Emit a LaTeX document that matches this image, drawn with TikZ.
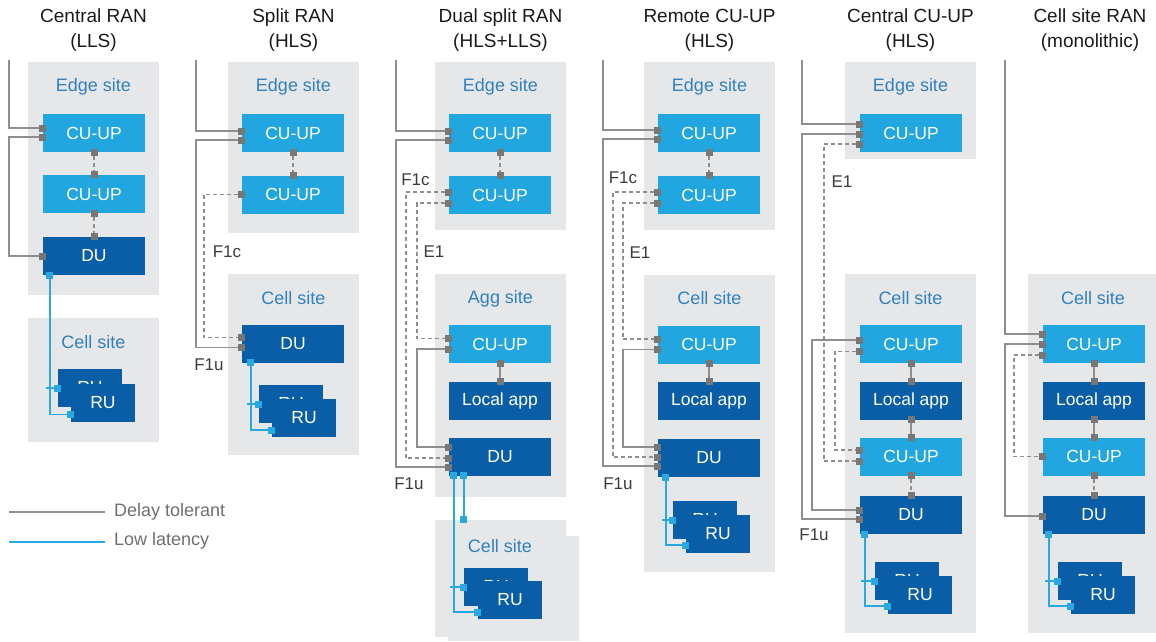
\documentclass[tikz,border=0pt]{standalone}
\usepackage{fontspec}
\setmainfont{Liberation Sans}
\usetikzlibrary{arrows.meta}
\definecolor{sitebg}{HTML}{E6E7E8}
\definecolor{cublue}{HTML}{22A6DF}
\definecolor{dublue}{HTML}{0A5EA7}
\definecolor{sitetxt}{HTML}{3180C0}
\definecolor{lgray}{HTML}{8E8E8E}
\definecolor{sqgray}{HTML}{777777}
\definecolor{lblue}{HTML}{2AA8E0}
\definecolor{legtxt}{HTML}{6D6E71}
\definecolor{ttl}{HTML}{1A1A1A}
\begin{document}
\begin{tikzpicture}[x=1pt,y=-1pt,
  site/.style={rectangle, fill=sitebg, draw=none, inner sep=0pt},
  sitelbl/.style={text=sitetxt, inner sep=0pt, font=\fontsize{18}{20}\selectfont},
  box/.style={rectangle, inner sep=0pt, minimum width=102pt, minimum height=38pt, text=white, font=\fontsize{17.5}{20}\selectfont},
  cu/.style={box, fill=cublue},
  du/.style={box, fill=dublue},
  ru/.style={box, fill=dublue, minimum width=64pt},
  title/.style={align=center, text=ttl, inner sep=0pt, font=\fontsize{19}{25}\selectfont},
  iflbl/.style={text=ttl!85, inner sep=0pt, font=\fontsize{17}{20}\selectfont},
  gl/.style={draw=lgray, line width=1.4pt, shorten >=-3.5pt, shorten <=-3.5pt,
    >={Square[length=7pt,width=7pt,line width=0pt,color=sqgray]}},
  dl/.style={gl, dash pattern=on 4pt off 3pt},
  bl/.style={draw=lblue, line width=1.4pt, shorten >=-3.5pt, shorten <=-3.5pt,
    >={Square[length=7pt,width=7pt,line width=0pt]}},
  legline/.style={line width=2pt},
  legtext/.style={text=legtxt, anchor=west, inner sep=0pt, font=\fontsize{18}{20}\selectfont}
]
\useasboundingbox (0,0) rectangle (1156,641);

% ---------------- Central RAN (LLS) ----------------
\node[title] (c1t) at (93.5,30.5) {Central RAN\\(LLS)};
\node[site, minimum width=131pt, minimum height=233pt] (c1edge) at (93.5,178.5) {};
\node[site, minimum width=131pt, minimum height=124pt] (c1cell) at (93.5,380) {};
\node[sitelbl] (c1edgeL) at (93.5,87) {Edge site};
\node[sitelbl] (c1cellL) at (93.5,342) {Cell site};
\node[cu] (c1cu1) at (94,133) {CU-UP};
\node[cu] (c1cu2) at (94,194) {CU-UP};
\node[du] (c1du) at (94,256) {DU};
\node[ru] (c1rub) at (90,388) {RU};
\node[ru] (c1ruf) at (103,402.5) {RU};
\coordinate (c1top) at (9,63);
\draw[gl,->] (c1top) |- ([yshift=5pt]c1cu1.west);
\draw[gl,<->] ([yshift=-4pt]c1cu1.west) -- ++(-34,0) |- (c1du.west);
\draw[dl,<->] (c1cu1.south) -- (c1cu2.north);
\draw[dl,<->] (c1cu2.south) -- (c1du.north);
\draw[bl,<->] ([xshift=7pt]c1du.south west) |- ([yshift=-12pt]c1ruf.west);
\draw[bl,->] ([xshift=7pt]c1du.south west |- c1rub.west) -- (c1rub.west);

% ---------------- Split RAN (HLS) ----------------
\node[title] (c2t) at (293.5,30.5) {Split RAN\\(HLS)};
\node[site, minimum width=131pt, minimum height=171pt] (c2edge) at (293.5,147.5) {};
\node[site, minimum width=131pt, minimum height=181pt] (c2cell) at (293.5,364.5) {};
\node[sitelbl] (c2edgeL) at (293.5,87) {Edge site};
\node[sitelbl] (c2cellL) at (293.5,298) {Cell site};
\node[cu] (c2cu1) at (293,133) {CU-UP};
\node[cu] (c2cu2) at (293,194.5) {CU-UP};
\node[du] (c2du) at (293,343.5) {DU};
\node[ru] (c2rub) at (291,404) {RU};
\node[ru] (c2ruf) at (304,418) {RU};
\coordinate (c2top) at (196,63);
\draw[gl,->] (c2top) |- ([yshift=2pt]c2cu1.west);
\draw[gl,<->] ([yshift=-7pt]c2cu1.west) -- ++(-46,0) |- ([yshift=-4pt]c2du.west);
\draw[dl,<->] (c2cu2.west) -- ++(-38,0) |- ([yshift=6pt]c2du.west);
\draw[dl,<->] (c2cu1.south) -- (c2cu2.north);
\draw[bl,<->] ([xshift=9pt]c2du.south west) |- ([yshift=-12pt]c2ruf.west);
\draw[bl,->] ([xshift=9pt]c2du.south west |- c2rub.west) -- (c2rub.west);
\node[iflbl] (c2f1c) at (227,252) {F1c};
\node[iflbl] (c2f1u) at (209,365) {F1u};

% ---------------- Dual split RAN (HLS+LLS) ----------------
\node[title] (c3t) at (500.5,30.5) {Dual split RAN\\(HLS+LLS)};
\node[site, minimum width=131pt, minimum height=168pt] (c3edge) at (500.5,146) {};
\node[site, minimum width=131pt, minimum height=223pt] (c3agg) at (500.5,385.5) {};
\node[site, minimum width=131pt, minimum height=117pt] (c3cellA) at (500.5,578.5) {};
\node[site, minimum width=131pt, minimum height=105pt] (c3cellB) at (513.5,588.5) {};
\node[sitelbl] (c3edgeL) at (500.5,87) {Edge site};
\node[sitelbl] (c3aggL) at (500.5,299) {Agg site};
\node[sitelbl] (c3cellL) at (500,546) {Cell site};
\node[cu] (c3cu1) at (500,133) {CU-UP};
\node[cu] (c3cu2) at (500,195) {CU-UP};
\node[cu] (c3acu) at (500,344) {CU-UP};
\node[du] (c3app) at (500,400.5) {Local app};
\node[du] (c3du) at (500,456.5) {DU};
\node[ru] (c3rub) at (496,587) {RU};
\node[ru] (c3ruf) at (510,600) {RU};
\coordinate (c3top) at (396,63);
\draw[gl,->] (c3top) |- ([yshift=2pt]c3cu1.west);
\draw[gl,<->] ([yshift=-7pt]c3cu1.west) -- ++(-53,0) |- ([yshift=-10.5pt]c3du.west);
\draw[dl,<->] ([yshift=3pt]c3cu2.west) -- ++(-43,0) |- ([yshift=-1.5pt]c3du.west);
\draw[dl,<->] ([yshift=-8pt]c3cu2.west) -- ++(-32,0) |- ([yshift=5.5pt]c3acu.west);
\draw[gl,<->] ([yshift=-5pt]c3acu.west) -- ++(-32,0) |- ([yshift=9.5pt]c3du.west);
\draw[dl,<->] (c3cu1.south) -- (c3cu2.north);
\draw[gl,<->] (c3acu.south) -- (c3app.north);
\draw[bl,<->] ([xshift=5pt]c3du.south west) |- ([yshift=-12pt]c3ruf.west);
\draw[bl,->] ([xshift=5pt]c3du.south west |- c3rub.west) -- (c3rub.west);
\draw[bl,<->] ([xshift=15pt]c3du.south west) -- ([xshift=15pt]c3du.south west |- c3cellA.north);
\node[iflbl] (c3f1c) at (415.5,180) {F1c};
\node[iflbl] (c3e1) at (434,252) {E1};
\node[iflbl] (c3f1u) at (409,484) {F1u};

% ---------------- Remote CU-UP (HLS) ----------------
\node[title] (c4t) at (709.5,30.5) {Remote CU-UP\\(HLS)};
\node[site, minimum width=131pt, minimum height=168pt] (c4edge) at (709.5,146) {};
\node[site, minimum width=131pt, minimum height=297pt] (c4cell) at (709.5,423.5) {};
\node[sitelbl] (c4edgeL) at (709.5,87) {Edge site};
\node[sitelbl] (c4cellL) at (709.5,298) {Cell site};
\node[cu] (c4cu1) at (709,133) {CU-UP};
\node[cu] (c4cu2) at (709,195) {CU-UP};
\node[cu] (c4cu) at (709,344.5) {CU-UP};
\node[du] (c4app) at (709,401) {Local app};
\node[du] (c4du) at (709,458) {DU};
\node[ru] (c4rub) at (705,520) {RU};
\node[ru] (c4ruf) at (718,534) {RU};
\coordinate (c4top) at (603,63);
\draw[gl,->] (c4top) |- ([yshift=3pt]c4cu1.west);
\draw[gl,<->] ([yshift=-6pt]c4cu1.west) -- ++(-55,0) |- ([yshift=-8pt]c4du.west);
\draw[dl,<->] ([yshift=3pt]c4cu2.west) -- ++(-45,0) |- ([yshift=1pt]c4du.west);
\draw[dl,<->] ([yshift=-8pt]c4cu2.west) -- ++(-35,0) |- ([yshift=5.5pt]c4cu.west);
\draw[gl,<->] ([yshift=-5pt]c4cu.west) -- ++(-35,0) |- ([yshift=11pt]c4du.west);
\draw[dl,<->] (c4cu1.south) -- (c4cu2.north);
\draw[gl,<->] (c4cu.south) -- (c4app.north);
\draw[bl,<->] ([xshift=8pt]c4du.south west) |- ([yshift=-11pt]c4ruf.west);
\draw[bl,->] ([xshift=8pt]c4du.south west |- c4rub.west) -- (c4rub.west);
\node[iflbl] (c4f1c) at (623,178) {F1c};
\node[iflbl] (c4e1) at (640,253) {E1};
\node[iflbl] (c4f1u) at (618,484) {F1u};

% ---------------- Central CU-UP (HLS) ----------------
\node[title] (c5t) at (910.5,30.5) {Central CU-UP\\(HLS)};
\node[site, minimum width=131pt, minimum height=97pt] (c5edge) at (910.5,110.5) {};
\node[site, minimum width=131pt, minimum height=359pt] (c5cell) at (910.5,453.5) {};
\node[sitelbl] (c5edgeL) at (910.5,87) {Edge site};
\node[sitelbl] (c5cellL) at (910.5,298) {Cell site};
\node[cu] (c5cu1) at (911,133) {CU-UP};
\node[cu] (c5ccu) at (911,344) {CU-UP};
\node[du] (c5app) at (911,400.5) {Local app};
\node[cu] (c5cu2) at (911,456.5) {CU-UP};
\node[du] (c5du) at (911,515) {DU};
\node[ru] (c5rub) at (907,581) {RU};
\node[ru] (c5ruf) at (920,595) {RU};
\coordinate (c5top) at (802,63);
\draw[gl,->] (c5top) |- ([yshift=9pt]c5cu1.west);
\draw[gl,<->] ([yshift=-1pt]c5cu1.west) -- ++(-58,0) |- ([yshift=-4pt]c5du.west);
\draw[dl,<->] ([yshift=-11pt]c5cu1.west) -- ++(-36,0) |- ([yshift=-4.5pt]c5cu2.west);
\draw[gl,<->] ([yshift=4pt]c5ccu.west) -- ++(-48,0) |- ([yshift=5pt]c5du.west);
\draw[dl,<->] ([yshift=-7.5pt]c5ccu.west) -- ++(-25,0) |- ([yshift=6.5pt]c5cu2.west);
\draw[gl,<->] (c5ccu.south) -- (c5app.north);
\draw[gl,<->] (c5app.south) -- (c5cu2.north);
\draw[dl,<->] (c5cu2.south) -- (c5du.north);
\draw[bl,<->] ([xshift=5pt]c5du.south west) |- ([yshift=-11pt]c5ruf.west);
\draw[bl,->] ([xshift=5pt]c5du.south west |- c5rub.west) -- (c5rub.west);
\node[iflbl] (c5e1) at (842,182) {E1};
\node[iflbl] (c5f1u) at (814,535) {F1u};

% ---------------- Cell site RAN (monolithic) ----------------
\node[title] (c6t) at (1090,30.5) {Cell site RAN\\(monolithic)};
\node[site, minimum width=128pt, minimum height=359pt] (c6cell) at (1092,453.5) {};
\node[sitelbl] (c6cellL) at (1093,298) {Cell site};
\node[cu] (c6cu1) at (1094,344) {CU-UP};
\node[du] (c6app) at (1094,400.5) {Local app};
\node[cu] (c6cu2) at (1094,456.5) {CU-UP};
\node[du] (c6du) at (1094,515) {DU};
\node[ru] (c6rub) at (1090,581) {RU};
\node[ru] (c6ruf) at (1103,595) {RU};
\coordinate (c6top) at (1005,63);
\draw[gl,->] (c6top) |- ([yshift=10pt]c6cu1.west);
\draw[gl,<->] (c6cu1.west) -- ++(-38,0) |- ([yshift=-1pt]c6du.west);
\draw[dl,<->] ([yshift=-11pt]c6cu1.west) -- ++(-29,0) |- (c6cu2.west);
\draw[gl,<->] (c6cu1.south) -- (c6app.north);
\draw[gl,<->] (c6app.south) -- (c6cu2.north);
\draw[dl,<->] (c6cu2.south) -- (c6du.north);
\draw[bl,<->] ([xshift=6pt]c6du.south west) |- ([yshift=-11pt]c6ruf.west);
\draw[bl,->] ([xshift=6pt]c6du.south west |- c6rub.west) -- (c6rub.west);

% ---------------- Legend ----------------
\coordinate (lg1a) at (9,512);
\coordinate (lg1b) at (105,512);
\coordinate (lg2a) at (9,542);
\coordinate (lg2b) at (105,542);
\draw[legline, draw=lgray] (lg1a) -- (lg1b);
\draw[legline, draw=lblue] (lg2a) -- (lg2b);
\node[legtext] (lgt1) at (114,512) {Delay tolerant};
\node[legtext] (lgt2) at (114,541) {Low latency};
\end{tikzpicture}
\end{document}
